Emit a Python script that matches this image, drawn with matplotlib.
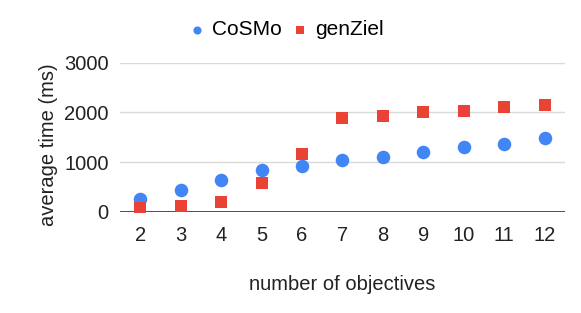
import matplotlib.pyplot as plt

plt.rcParams['font.family'] = ['Liberation Sans', 'DejaVu Sans']

objectives = [2, 3, 4, 5, 6, 7, 8, 9, 10, 11, 12]
cosmo = [268, 443, 644, 839, 933, 1040, 1107, 1208, 1302, 1362, 1477]
genziel = [87, 121, 195, 584, 1174, 1886, 1919, 2007, 2034, 2101, 2154]

fig = plt.figure(figsize=(5.81, 3.13), dpi=100)
ax = fig.add_axes([0.2065, 0.3227, 0.766, 0.477])

ax.scatter(objectives, cosmo, s=95, marker='o', color='#4285F4', label='CoSMo', zorder=3, linewidths=0)
ax.scatter(objectives, genziel, s=75, marker='s', color='#EA4335', label='genZiel', zorder=3, linewidths=0)

ax.set_xlim(1.5, 12.5)
ax.set_ylim(0, 3000)
ax.set_xticks(objectives)
ax.set_yticks([0, 1000, 2000, 3000])
ax.grid(axis='y', color='#d9d9d9', linewidth=1)
ax.axhline(0, color='#333333', linewidth=1.2, zorder=2)
ax.set_axisbelow(True)
for s in ax.spines.values():
    s.set_visible(False)
ax.tick_params(length=0, labelsize=14.5, colors='#222222')
ax.tick_params(axis='x', pad=10)
ax.tick_params(axis='y', pad=8)

ax.set_xlabel('number of objectives', fontsize=14.5, color='#222222')
ax.xaxis.set_label_coords(0.5, -0.42)
ax.set_ylabel('average time (ms)', fontsize=14.5, color='#222222')
ax.yaxis.set_label_coords(-0.14, 0.45)

ax.legend(loc='center', bbox_to_anchor=(0.373, 1.22), ncol=2, frameon=False,
          fontsize=15, handlelength=0.8, handletextpad=0.3, columnspacing=0.5,
          markerscale=0.6)

fig.savefig('out.png', dpi=100)
